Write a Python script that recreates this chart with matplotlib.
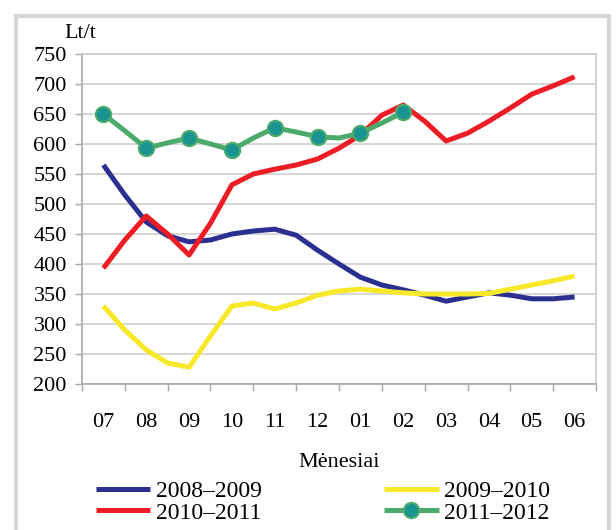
import matplotlib
matplotlib.use("Agg")
import matplotlib.pyplot as plt
import numpy as np
from matplotlib.patches import Rectangle

# Menesiai (sezonas nuo liepos iki birzelio)
menesiai = ["07", "08", "09", "10", "11", "12", "01", "02", "03", "04", "05", "06"]

# Kainos kas puse menesio, Lt/t
kaina_0809 = [565, 515, 470, 447, 437, 440, 450, 455, 458, 448, 423, 400,
              378, 365, 357, 348, 338, 345, 352, 348, 342, 342, 345]
kaina_0910 = [330, 290, 257, 235, 228, 280, 330, 335, 325, 335, 348, 355,
              358, 355, 352, 350, 350, 350, 351, 358, 365, 372, 380]
kaina_1011 = [393, 440, 480, 450, 415, 468, 532, 550, 558, 565, 575, 593,
              615, 648, 665, 638, 605, 618, 638, 660, 683, 697, 712]
kaina_1112 = [650, 622, 593, 602, 610, 600, 590, 610, 627, 620, 612, 610,
              618, 635, 653]

serijos = ["2008\u20132009", "2009\u20132010", "2010\u20132011", "2011\u20132012"]

plt.rcParams['font.family'] = ['Liberation Serif', 'DejaVu Serif']

fig = plt.figure(figsize=(6.16, 5.30), dpi=100)
ax = fig.add_axes([82/616, 1-384/530, (596-82)/616, (384-54)/530])

def xs(v):
    return np.arange(len(v)) * 0.5

lw = 3.6
stil = dict(lw=lw, solid_joinstyle="round", solid_capstyle="butt")
l1, = ax.plot(xs(kaina_0809), kaina_0809, color="#2b3090", label=serijos[0], **stil)
l2, = ax.plot(xs(kaina_0910), kaina_0910, color="#f7e829", label=serijos[1], **stil)
l3, = ax.plot(xs(kaina_1011), kaina_1011, color="#ee1d25", label=serijos[2], **stil)
l4, = ax.plot(xs(kaina_1112), kaina_1112, color="#4caa6c", label=serijos[3],
              marker="o", markevery=2, markersize=11, markerfacecolor="#1a9490",
              markeredgecolor="#4caa6c", markeredgewidth=1.5, **stil)

ax.set_xlim(-0.5, 11.5)
ax.set_ylim(200, 750)
ax.set_yticks(np.arange(200, 751, 50))
ax.set_xticks(np.arange(12))
ax.set_xticklabels(menesiai)
ax.set_xticks(np.arange(-0.5, 12, 1), minor=True)
ax.tick_params(axis="x", which="major", length=0, pad=21, labelsize=16)
ax.tick_params(axis="x", which="minor", length=5, color="#a8a8a8", width=1)
ax.tick_params(axis="y", length=5, color="#a8a8a8", width=1, pad=6, labelsize=16)
ax.grid(axis="y", color="#cccccc", lw=1.1)
ax.set_axisbelow(True)
for s in ["left", "bottom"]:
    ax.spines[s].set_color("#a8a8a8")
    ax.spines[s].set_linewidth(1.2)
for s in ["top", "right"]:
    ax.spines[s].set_color("#cccccc")
    ax.spines[s].set_linewidth(1.2)

ax.set_xlabel("M\u0117nesiai", fontsize=16, labelpad=15)
fig.text(64/616, 1-34/530, "Lt/t", fontsize=16, va="center", ha="left")

fig.legend(handles=[l1, l3, l2, l4], ncol=2, frameon=False, fontsize=17,
           loc="center", bbox_to_anchor=(323/616, 1-502/530), borderpad=0,
           handlelength=2.3, handletextpad=0.22, columnspacing=5.2,
           labelspacing=0.0)

# pilkas remelis aplink paveiksla
fig.add_artist(Rectangle((16/616, -0.05), (609-16)/616, 1.05-16/530,
                         transform=fig.transFigure, fill=False,
                         edgecolor="#d6d6d6", lw=3))

fig.savefig("out.png", dpi=100)
